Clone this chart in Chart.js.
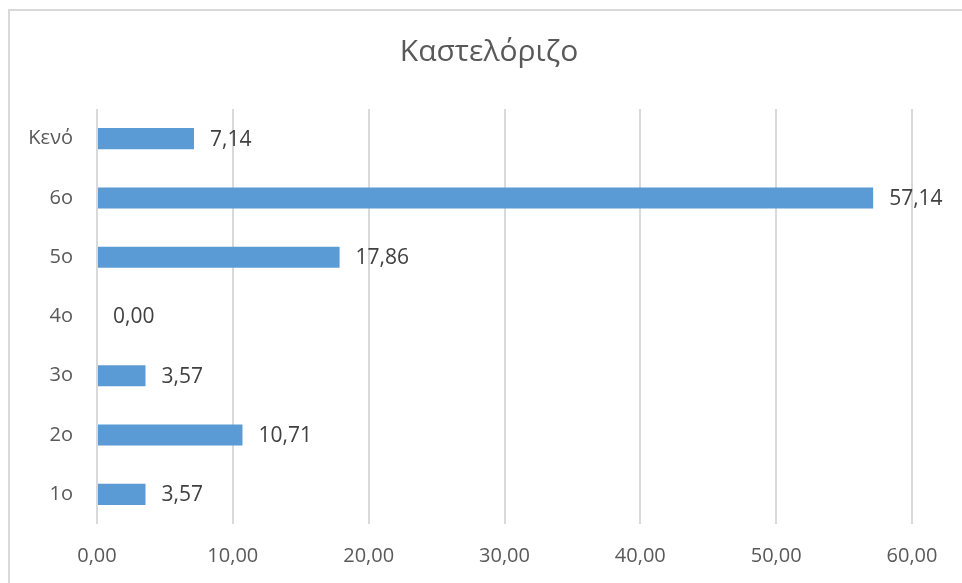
<!DOCTYPE html>
<html lang="el">
<head>
    <meta charset="UTF-8">
    <title>Καστελόριζο</title>
    <script src="https://cdn.jsdelivr.net/npm/chart.js@4.4.3/dist/chart.umd.min.js"></script>
    <style>
        html, body { margin: 0; padding: 0; background: #fff; }
        #chart { display: block; }
    </style>
</head>
<body>
    <canvas id="chart" width="962" height="583"></canvas>
    <script>
        // data
        const chartTitle = 'Καστελόριζο';
        const categories = ['Κενό', '6ο', '5ο', '4ο', '3ο', '2ο', '1ο'];
        const values = [7.14, 57.14, 17.86, 0.00, 3.57, 10.71, 3.57];
        const xMin = 0, xMax = 60, xStep = 10;

        const fmt = v => v.toFixed(2).replace('.', ',');
        const fontFamily = '"Open Sans", "Noto Sans", sans-serif';

        // frame, title and value labels beside bars
        const frameAndLabels = {
            id: 'frameAndLabels',
            beforeDraw(chart) {
                const c = chart.ctx;
                c.save();
                c.fillStyle = '#ffffff';
                c.fillRect(0, 0, chart.width, chart.height);
                c.strokeStyle = '#d9d9d9';
                c.lineWidth = 2;
                c.strokeRect(9, 10, chart.width + 20, chart.height + 20);
                // title sits over the whole frame, not just the plot
                c.font = '30px ' + fontFamily;
                c.fillStyle = '#595959';
                c.textAlign = 'center';
                c.textBaseline = 'middle';
                c.fillText(chartTitle, 489, 52);
                c.restore();
            },
            afterDatasetsDraw(chart) {
                const c = chart.ctx;
                const meta = chart.getDatasetMeta(0);
                const xs = chart.scales.x;
                c.save();
                c.font = '21px ' + fontFamily;
                c.fillStyle = '#404040';
                c.textAlign = 'left';
                c.textBaseline = 'middle';
                meta.data.forEach((bar, i) => {
                    const x = xs.getPixelForValue(values[i]) + 16;
                    c.fillText(fmt(values[i]), x, bar.y + 1);
                });
                c.restore();
            }
        };

        new Chart(document.getElementById('chart'), {
            type: 'bar',
            data: {
                labels: categories,
                datasets: [{
                    label: chartTitle,
                    data: values,
                    backgroundColor: '#5b9bd5',
                    borderWidth: 0,
                    categoryPercentage: 1,
                    barPercentage: 0.355
                }]
            },
            options: {
                indexAxis: 'y',
                responsive: false,
                animation: false,
                layout: { padding: { left: 0, right: 50, top: 109, bottom: 0 } },
                plugins: {
                    legend: { display: false },
                    tooltip: { enabled: false },
                    title: { display: false }
                },
                scales: {
                    x: {
                        min: xMin,
                        max: xMax,
                        ticks: {
                            stepSize: xStep,
                            color: '#595959',
                            font: { family: fontFamily, size: 20 },
                            padding: 20,
                            callback: v => fmt(v)
                        },
                        grid: { color: '#d9d9d9', lineWidth: 2, drawTicks: false },
                        border: { display: false },
                        afterFit(scale) { scale.height = 59; }
                    },
                    y: {
                        ticks: {
                            color: '#595959',
                            font: { family: fontFamily, size: 20 },
                            padding: 24
                        },
                        grid: { display: false, drawTicks: false },
                        border: { display: false },
                        afterFit(scale) { scale.width = 97; }
                    }
                }
            },
            plugins: [frameAndLabels]
        });
    </script>
</body>
</html>
